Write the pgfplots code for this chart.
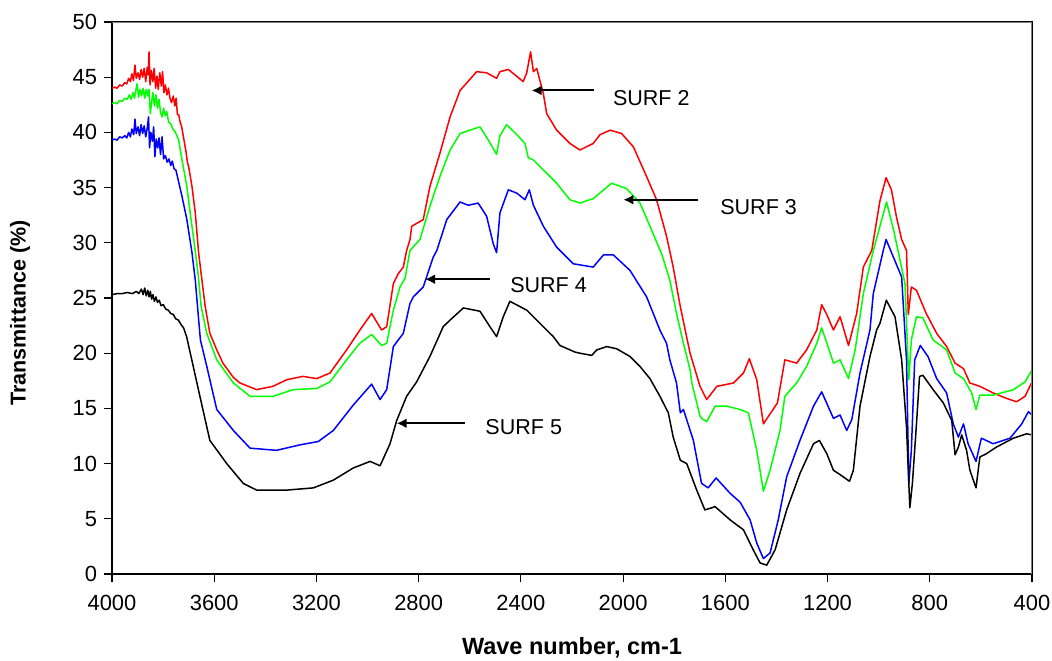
\documentclass[border=0pt]{standalone}
\usepackage{fontspec}
\setmainfont{Liberation Sans}
\usepackage{pgfplots}
\pgfplotsset{compat=1.18}
\usetikzlibrary{arrows.meta}

\begin{document}
\begin{tikzpicture}
\path[use as bounding box] (-56bp,-43.5bp) rectangle (470bp,287bp);
\begin{axis}[
  at={(0,0)}, anchor=south west,
  scale only axis, width=460bp, height=276bp,
  xmin=400, xmax=4000, x dir=reverse,
  ymin=0, ymax=50,
  xtick={400,800,...,4000}, ytick={0,5,...,50},
  tick pos=left, tick align=outside, major tick length=4bp,
  tick style={black, line width=0.6bp},
  axis line style={black, line width=0.6bp},
  /pgf/number format/assume math mode=true,
  /pgf/number format/1000 sep={},
  ticklabel style={font=\fontsize{11}{13}\selectfont},
  xticklabel style={yshift=-3bp},
  xlabel={Wave number, cm-1},
  ylabel={Transmittance (\%)},
  xlabel style={font=\fontsize{11.8}{13}\selectfont\bfseries, at={(axis description cs:0.5,0)}, anchor=center, yshift=-37bp},
  ylabel style={font=\fontsize{10.8}{12}\selectfont\bfseries, at={(axis description cs:-0.1,0.473)}, anchor=center},
  every axis plot/.append style={line width=0.75bp, line join=round},
  clip=true,
]
% SURF 2
\addplot[red] coordinates {
(4000,44.0)(3990,44.1)(3980,44.0)(3970,44.3)(3960,44.2)(3950,44.5)(3942,44.4)(3935,44.9)(3928,44.6)(3922,45.3)(3916,44.7)(3910,46.1)(3905,44.9)(3898,45.4)(3892,44.8)(3886,45.7)(3880,45.0)(3874,45.8)(3868,44.6)(3862,45.9)(3858,45.2)(3855,47.3)(3851,44.3)(3846,45.6)(3840,44.6)(3835,45.8)(3829,44.0)(3824,45.1)(3819,43.9)(3813,45.4)(3807,44.2)(3802,45.5)(3797,43.6)(3791,44.3)(3785,43.4)(3779,44.0)(3773,43.1)(3767,42.7)(3760,43.3)(3754,42.4)(3749,43.1)(3744,41.6)(3739,41.6)(3733,40.9)(3728,40.6)(3722,39.8)(3716,39.0)(3710,38.2)(3705,37.3)(3700,36.9)(3687,35.1)(3674,32.7)(3661,29.1)(3648,26.6)(3635,24.2)(3617,21.8)(3590,20.3)(3566,19.1)(3525,17.8)(3499,17.3)(3434,16.7)(3370,17.0)(3316,17.6)(3253,17.9)(3199,17.7)(3147,18.2)(3082,20.3)(3030,22.1)(2984,23.6)(2945,22.1)(2925,22.4)(2899,26.3)(2880,27.2)(2860,27.8)(2847,29.3)(2834,30.3)(2827,31.5)(2782,32.1)(2756,35.1)(2717,38.1)(2677,41.4)(2638,43.8)(2573,45.5)(2534,45.4)(2495,44.9)(2482,45.5)(2449,45.7)(2391,44.6)(2377,45.4)(2362,47.3)(2351,45.5)(2338,45.8)(2312,43.5)(2299,41.7)(2260,40.2)(2208,39.0)(2169,38.4)(2117,39.0)(2090,39.8)(2051,40.2)(2006,39.9)(1960,38.7)(1908,36.0)(1869,33.9)(1830,30.6)(1804,27.8)(1776,24.2)(1738,20.0)(1699,17.0)(1673,15.8)(1633,17.0)(1568,17.3)(1529,18.2)(1506,19.5)(1477,17.6)(1451,13.6)(1396,15.5)(1367,19.4)(1321,19.1)(1282,20.3)(1242,22.1)(1223,24.4)(1203,23.5)(1177,22.1)(1151,23.3)(1118,20.7)(1086,23.6)(1060,27.8)(1027,29.3)(995,33.8)(971,35.9)(950,34.8)(930,32.3)(910,30.3)(891,29.3)(884,23.5)(872,26.0)(852,25.7)(814,23.6)(773,21.8)(734,20.6)(701,19.1)(668,18.6)(643,17.3)(604,17.0)(552,16.4)(499,15.9)(460,15.6)(427,16.1)(400,17.4)
};
% SURF 3
\addplot[green] coordinates {
(4000,42.6)(3990,42.7)(3980,42.6)(3970,42.9)(3960,42.8)(3950,43.1)(3940,43.0)(3932,43.4)(3925,43.0)(3918,43.6)(3912,43.1)(3906,43.9)(3902,44.4)(3896,43.2)(3890,43.9)(3884,43.3)(3878,44.0)(3872,43.1)(3866,43.9)(3860,43.3)(3855,43.9)(3850,41.7)(3845,42.7)(3840,43.6)(3834,42.4)(3828,43.4)(3822,42.2)(3816,43.0)(3810,41.8)(3804,41.4)(3798,42.2)(3792,41.5)(3786,41.9)(3778,40.9)(3770,40.8)(3762,40.3)(3754,40.1)(3746,39.7)(3739,39.3)(3726,37.5)(3707,35.1)(3694,32.7)(3680,30.3)(3663,27.2)(3651,24.2)(3629,21.8)(3590,19.4)(3525,17.3)(3460,16.1)(3369,16.1)(3291,16.7)(3199,16.8)(3147,17.4)(3082,19.4)(3030,20.9)(2984,21.7)(2945,20.7)(2925,20.9)(2899,23.9)(2873,26.0)(2853,26.8)(2834,29.3)(2795,30.3)(2756,33.3)(2717,36.0)(2677,38.4)(2638,39.9)(2599,40.2)(2560,40.5)(2527,39.3)(2495,38.0)(2482,39.7)(2456,40.7)(2416,39.8)(2384,39.0)(2371,37.7)(2351,37.5)(2312,36.6)(2260,35.4)(2208,33.9)(2169,33.6)(2117,34.0)(2045,35.4)(1986,34.9)(1934,33.6)(1895,31.5)(1849,29.0)(1817,26.6)(1791,23.6)(1764,20.9)(1738,18.5)(1731,17.3)(1699,14.3)(1693,14.1)(1673,13.8)(1640,15.2)(1594,15.2)(1542,14.9)(1510,14.6)(1477,11.2)(1451,7.5)(1425,9.4)(1386,13.0)(1367,16.1)(1321,17.3)(1282,18.8)(1242,20.9)(1223,22.3)(1177,19.1)(1151,19.4)(1118,17.7)(1092,20.3)(1060,25.4)(1021,29.3)(969,33.7)(940,31.0)(897,26.3)(882,17.6)(872,21.2)(852,23.3)(827,23.2)(787,21.2)(734,20.3)(701,18.2)(668,17.7)(636,16.4)(619,14.9)(604,16.2)(552,16.2)(473,16.7)(427,17.4)(400,18.5)
};
% SURF 4
\addplot[blue] coordinates {
(4000,39.3)(3990,39.4)(3980,39.3)(3970,39.6)(3960,39.5)(3950,39.7)(3942,39.5)(3935,40.0)(3928,39.6)(3922,40.3)(3915,39.8)(3910,41.2)(3905,39.9)(3898,40.5)(3892,39.7)(3886,40.7)(3880,39.9)(3874,40.6)(3868,39.6)(3862,40.4)(3857,41.4)(3853,38.6)(3848,40.0)(3842,39.2)(3837,40.5)(3832,37.8)(3827,39.4)(3821,38.6)(3816,39.5)(3810,38.0)(3804,39.6)(3798,37.6)(3791,37.9)(3784,37.3)(3777,37.6)(3770,37.0)(3764,37.4)(3757,36.7)(3750,36.6)(3746,36.2)(3726,34.2)(3707,32.1)(3687,29.1)(3674,26.6)(3663,23.6)(3654,21.2)(3629,18.8)(3590,14.9)(3525,13.0)(3460,11.4)(3356,11.2)(3264,11.7)(3193,12.0)(3134,13.0)(3056,15.3)(2984,17.2)(2951,15.8)(2925,16.7)(2899,20.6)(2860,21.8)(2834,24.5)(2821,25.1)(2795,25.7)(2782,26.0)(2743,28.7)(2729,29.3)(2690,32.1)(2638,33.7)(2606,33.4)(2567,33.6)(2534,32.4)(2508,29.9)(2495,29.1)(2482,32.7)(2449,34.8)(2416,34.5)(2384,33.9)(2367,34.8)(2351,33.4)(2312,31.5)(2260,29.6)(2195,28.1)(2117,27.8)(2077,28.9)(2038,28.9)(1973,27.5)(1908,25.1)(1856,22.1)(1830,20.9)(1817,19.4)(1791,17.3)(1776,14.6)(1764,14.9)(1725,12.1)(1693,8.2)(1667,7.8)(1636,8.7)(1581,7.3)(1542,6.5)(1503,4.9)(1477,2.8)(1451,1.4)(1425,1.9)(1393,4.9)(1360,8.8)(1308,12.1)(1255,15.2)(1223,16.5)(1177,14.1)(1151,14.4)(1125,13.0)(1105,14.0)(1073,18.2)(1034,22.1)(1021,25.4)(982,29.3)(971,30.3)(910,26.9)(891,19.4)(882,8.2)(872,11.2)(859,19.4)(837,20.7)(807,19.7)(773,17.7)(734,16.4)(708,13.6)(688,12.4)(668,13.6)(650,11.8)(619,10.2)(598,12.3)(552,11.8)(486,12.3)(440,13.6)(414,14.7)(400,14.4)
};
% SURF 5
\addplot[black] coordinates {
(4000,25.3)(3980,25.4)(3960,25.4)(3940,25.5)(3920,25.4)(3905,25.6)(3895,25.4)(3885,25.8)(3878,25.3)(3872,25.9)(3866,25.2)(3860,25.7)(3855,25.1)(3850,25.6)(3845,24.9)(3840,25.3)(3834,24.7)(3828,25.1)(3822,24.6)(3815,24.8)(3808,24.3)(3799,24.4)(3790,24.0)(3780,23.9)(3770,23.6)(3760,23.5)(3750,23.1)(3740,23.0)(3730,22.6)(3720,22.3)(3708,21.5)(3682,18.8)(3656,16.1)(3617,12.1)(3551,10.0)(3486,8.2)(3434,7.6)(3316,7.6)(3212,7.8)(3134,8.5)(3056,9.6)(2990,10.2)(2951,9.8)(2912,11.8)(2886,13.9)(2847,16.1)(2808,17.4)(2756,19.7)(2704,22.4)(2677,23.0)(2625,24.1)(2560,23.8)(2521,22.4)(2495,21.5)(2469,23.3)(2443,24.7)(2377,23.9)(2325,22.7)(2273,21.5)(2247,20.7)(2188,20.1)(2169,20.0)(2123,19.8)(2103,20.3)(2064,20.6)(2025,20.4)(1973,19.7)(1934,18.8)(1895,17.7)(1856,16.1)(1823,14.6)(1804,12.4)(1776,10.3)(1751,10.0)(1712,7.6)(1680,5.8)(1640,6.1)(1581,4.9)(1529,4.0)(1491,2.2)(1464,1.0)(1438,0.8)(1405,2.2)(1360,5.8)(1308,9.1)(1255,11.8)(1232,12.1)(1203,10.9)(1177,9.4)(1151,9.0)(1114,8.4)(1099,9.4)(1073,15.2)(1034,19.7)(1008,22.1)(995,22.7)(970,24.8)(936,23.3)(910,19.4)(891,13.3)(878,6.0)(868,8.2)(852,13.6)(840,17.9)(827,18.0)(787,16.7)(747,15.5)(714,13.9)(701,10.8)(688,11.5)(675,12.6)(656,11.2)(643,9.4)(619,7.8)(604,10.6)(578,10.9)(539,11.5)(473,12.3)(421,12.7)(400,12.6)
};
% frame top/right in grey
\draw[gray, line width=0.6bp] (rel axis cs:0,1) -- (rel axis cs:1,1) -- (rel axis cs:1,0);
% annotations
\begin{scope}[line width=1bp, -{Latex[length=5bp,width=5bp]}]
\draw (axis cs:2114,43.8) -- (axis cs:2358,43.8);
\draw (axis cs:1706,33.9) -- (axis cs:1999,33.9);
\draw (axis cs:2521,26.7) -- (axis cs:2775,26.7);
\draw (axis cs:2619,13.65) -- (axis cs:2886,13.65);
\end{scope}
\begin{scope}[font=\fontsize{10.8}{12}\selectfont, inner sep=0pt]
\node[anchor=west] at (axis cs:2041,43.1) {SURF 2};
\node[anchor=west] at (axis cs:1621,33.2) {SURF 3};
\node[anchor=west] at (axis cs:2443,26.2) {SURF 4};
\node[anchor=west] at (axis cs:2540,13.3) {SURF 5};
\end{scope}
\end{axis}
\end{tikzpicture}
\end{document}
